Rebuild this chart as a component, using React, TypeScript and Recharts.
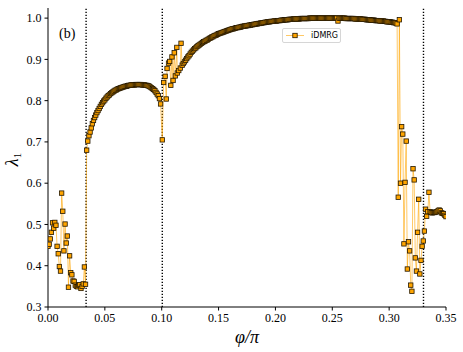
import { LineChart, Line, XAxis, YAxis, ReferenceLine, Label } from 'recharts'

// lambda_1; the smooth parts sit on a phi/pi grid of 0.001
const STEP = 0.001

const lowStart = 0.0
const lowValues = [
  0.447, 0.452, 0.465, 0.481, 0.504, 0.491, 0.505, 0.498, 0.447, 0.429,
  0.398, 0.387, 0.576, 0.532, 0.436, 0.501, 0.455, 0.472, 0.348, 0.424,
  0.383, 0.378, 0.363, 0.362, 0.353, 0.350, 0.349, 0.353, 0.354, 0.345,
  0.350, 0.356, 0.397, 0.355,
]

const domeStart = 0.034
const domeValues = [
  0.680, 0.702, 0.715, 0.724, 0.734, 0.744, 0.752, 0.759, 0.765, 0.771,
  0.776, 0.781, 0.786, 0.791, 0.795, 0.799, 0.802, 0.806, 0.809, 0.812,
  0.814, 0.817, 0.819, 0.821, 0.823, 0.825, 0.826, 0.828, 0.829, 0.830,
  0.831, 0.832, 0.833, 0.834, 0.835, 0.835, 0.836, 0.837, 0.837, 0.838,
  0.838, 0.838, 0.838, 0.839, 0.839, 0.839, 0.839, 0.839, 0.839, 0.838,
  0.838, 0.838, 0.837, 0.837, 0.836, 0.835, 0.833, 0.831, 0.829, 0.827,
  0.824, 0.820, 0.816, 0.812, 0.805, 0.792,
]

// irregular points just past the phi/pi = 0.1 transition
const zigzag = [
  [0.1005, 0.705], [0.1017, 0.844], [0.103, 0.859], [0.104, 0.804], [0.1047, 0.878],
  [0.106, 0.891], [0.107, 0.895], [0.108, 0.837], [0.109, 0.906], [0.110, 0.849],
  [0.111, 0.916], [0.112, 0.860], [0.1133, 0.929], [0.1137, 0.867], [0.115, 0.873],
  [0.1164, 0.879], [0.117, 0.939], [0.118, 0.886],
]

const plateauStart = 0.119
const plateauValues = [
  0.890, 0.894, 0.898, 0.902, 0.906, 0.909, 0.913, 0.917, 0.920, 0.923,
  0.926, 0.928, 0.931, 0.933, 0.935, 0.937, 0.939, 0.941, 0.943, 0.944,
  0.946, 0.947, 0.949, 0.951, 0.952, 0.954, 0.955, 0.957, 0.958, 0.959,
  0.961, 0.962, 0.963, 0.964, 0.965, 0.966, 0.967, 0.968, 0.969, 0.970,
  0.971, 0.972, 0.973, 0.974, 0.974, 0.975, 0.976, 0.977, 0.977, 0.978,
  0.978, 0.979, 0.980, 0.980, 0.981, 0.981, 0.982, 0.982, 0.983, 0.983,
  0.984, 0.984, 0.985, 0.985, 0.986, 0.986, 0.987, 0.987, 0.988, 0.988,
  0.989, 0.989, 0.990, 0.990, 0.991, 0.991, 0.991, 0.992, 0.992, 0.992,
  0.993, 0.993, 0.993, 0.994, 0.994, 0.994, 0.995, 0.995, 0.995, 0.996,
  0.996, 0.996, 0.996, 0.997, 0.997, 0.997, 0.997, 0.998, 0.998, 0.998,
  0.998, 0.998, 0.998, 0.999, 0.999, 0.999, 0.999, 0.999, 0.999, 0.999,
  0.999, 1.000, 1.000, 1.000, 1.000, 1.000, 1.000, 1.000, 1.000, 1.000,
  1.000, 1.000, 1.000, 1.000, 1.000, 1.000, 1.000, 1.000, 1.000, 1.000,
  1.000, 1.000, 1.000, 1.000, 1.000, 1.000, 0.993, 1.000, 1.000, 1.000,
  1.000, 1.000, 1.000, 0.999, 0.999, 0.999, 0.999, 0.999, 0.999, 0.999,
  0.999, 0.998, 0.998, 0.998, 0.998, 0.998, 0.998, 0.997, 0.997, 0.997,
  0.997, 0.996, 0.996, 0.996, 0.996, 0.995, 0.995, 0.995, 0.995, 0.994,
  0.994, 0.994, 0.994, 0.993, 0.993, 0.993, 0.993, 0.992, 0.992, 0.991,
  0.991, 0.991, 0.991, 0.990, 0.990, 0.989, 0.989, 0.988, 0.986,
]

const chaosStart = 0.308
const chaosValues = [
  0.566, 0.996, 0.600, 0.737, 0.719, 0.453, 0.602, 0.702, 0.392, 0.458,
  0.436, 0.353, 0.338, 0.635, 0.608, 0.419, 0.387, 0.481, 0.561, 0.380,
  0.413, 0.447, 0.460, 0.484, 0.537, 0.520, 0.531, 0.578,
]

const tailStart = 0.336
const tailValues = [
  0.531, 0.529, 0.528, 0.529, 0.529, 0.530, 0.531, 0.533, 0.535, 0.533,
  0.528, 0.527, 0.526, 0.522, 0.519,
]

const transitions = [0.0335, 0.1005, 0.3302]
const xTicks = [0, 0.05, 0.1, 0.15, 0.2, 0.25, 0.3, 0.35]
const yTicks = [0.3, 0.4, 0.5, 0.6, 0.7, 0.8, 0.9, 1.0]

const onGrid = (start: number, values: number[]) =>
  values.map((lambda, i) => ({ phi: +(start + i * STEP).toFixed(4), lambda }))

const data = [
  ...onGrid(lowStart, lowValues),
  ...onGrid(domeStart, domeValues),
  ...zigzag.map(([phi, lambda]) => ({ phi, lambda })),
  ...onGrid(plateauStart, plateauValues),
  ...onGrid(chaosStart, chaosValues),
  ...onGrid(tailStart, tailValues),
]

const serif = '"Liberation Serif", "DejaVu Serif", serif'
const tickStyle = { fontFamily: serif, fontSize: 12, fill: '#000' }

const SquareDot = (props: any) => {
  const { cx, cy, index } = props
  if (cx == null || cy == null) return null
  return (
    <rect
      key={`sq-${index}`}
      x={cx - 2.2}
      y={cy - 2.2}
      width={4.4}
      height={4.4}
      fill="#ffa500"
      stroke="#231700"
      strokeWidth={0.8}
    />
  )
}

export default function App() {
  return (
    <div style={{ position: 'absolute', left: 0, top: 0, width: 463, height: 352, background: '#fff' }}>
      <LineChart width={463} height={352} data={data} margin={{ top: 8, right: 17, bottom: 0, left: 0 }}>
        <XAxis
          dataKey="phi"
          type="number"
          domain={[0, 0.35]}
          ticks={xTicks}
          tickFormatter={(v: number) => v.toFixed(2)}
          height={45}
          tickSize={3.5}
          tickMargin={3}
          stroke="#000"
          tick={tickStyle}
          allowDataOverflow
        >
          <Label
            content={({ viewBox }: any) => (
              <text
                x={viewBox.x + viewBox.width / 2}
                y={viewBox.y + 36}
                textAnchor="middle"
                fontFamily={serif}
                fontStyle="italic"
                fontSize={18}
                fill="#000"
              >
                φ/π
              </text>
            )}
          />
        </XAxis>
        <XAxis
          xAxisId="top"
          orientation="top"
          type="number"
          domain={[0, 0.35]}
          ticks={xTicks}
          tickFormatter={() => ''}
          height={0}
          tickSize={3.5}
          stroke="#000"
          allowDataOverflow
        />
        <YAxis
          type="number"
          domain={[0.3, 1.0245]}
          ticks={yTicks}
          tickFormatter={(v: number) => v.toFixed(1)}
          width={48}
          tickSize={3.5}
          tickMargin={3}
          stroke="#000"
          tick={tickStyle}
          allowDataOverflow
        >
          <Label
            content={({ viewBox }: any) => {
              const cx = 18
              const cy = viewBox.y + viewBox.height / 2 + 2
              return (
                <text
                  x={cx}
                  y={cy}
                  transform={`rotate(-90 ${cx} ${cy})`}
                  textAnchor="middle"
                  fontFamily={serif}
                  fontSize={18}
                  fill="#000"
                >
                  <tspan fontStyle="italic">λ</tspan>
                  <tspan fontSize={11} dy={3}>1</tspan>
                </text>
              )
            }}
          />
        </YAxis>
        <YAxis
          yAxisId="right"
          orientation="right"
          type="number"
          domain={[0.3, 1.0245]}
          width={0}
          tick={false}
          tickLine={false}
          stroke="#000"
        />
        {transitions.map((x) => (
          <ReferenceLine
            key={x}
            x={x}
            stroke="#000"
            strokeWidth={1.4}
            strokeDasharray="1.3 1.7"
          />
        ))}
        <Line
          dataKey="lambda"
          type="linear"
          stroke="#ffa500"
          strokeOpacity={0.6}
          strokeWidth={1}
          dot={SquareDot}
          activeDot={false}
          isAnimationActive={false}
        />
      </LineChart>
      <div
        style={{
          position: 'absolute',
          left: 59,
          top: 27,
          fontFamily: serif,
          fontSize: 14,
          color: '#000',
          lineHeight: '14px',
        }}
      >
        (b)
      </div>
      <div
        style={{
          position: 'absolute',
          left: 282,
          top: 28,
          width: 59,
          height: 15,
          boxSizing: 'border-box',
          border: '1px solid #d6d6d6',
          borderRadius: 2,
          background: 'rgba(255,255,255,0.85)',
          display: 'flex',
          alignItems: 'center',
        }}
      >
        <svg width={26} height={13} style={{ display: 'block' }}>
          <line x1={3} y1={6.5} x2={21} y2={6.5} stroke="#ffa500" strokeOpacity={0.6} strokeWidth={1} />
          <rect x={9.8} y={4.3} width={4.4} height={4.4} fill="#ffa500" stroke="#231700" strokeWidth={0.8} />
        </svg>
        <span style={{ fontFamily: '"DejaVu Sans", sans-serif', fontSize: 8, color: '#000', marginLeft: 2 }}>iDMRG</span>
      </div>
    </div>
  )
}
